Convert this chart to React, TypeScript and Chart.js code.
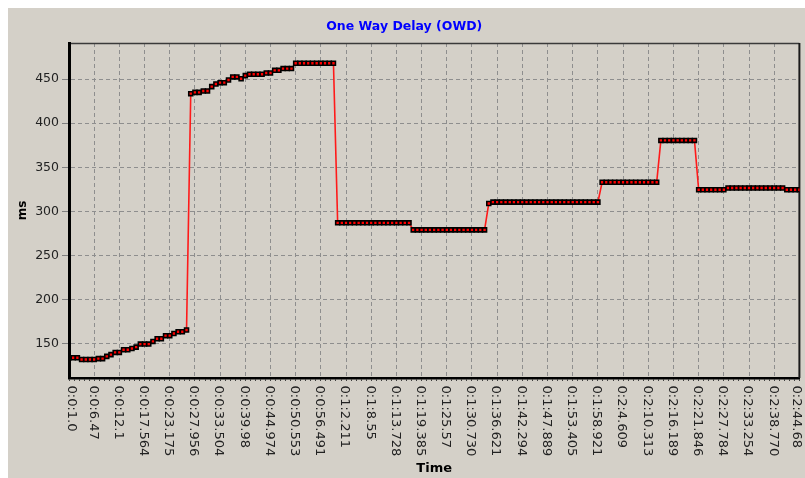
import React, { useEffect, useRef } from 'react';
import { Chart, registerables } from 'chart.js';

Chart.register(...registerables);

const chartTitle = 'One Way Delay (OWD)';
const xAxisTitle = 'Time';
const yAxisTitle = 'ms';

// tick labels shown every `samplesPerLabel` samples
const timeLabels = [
  '0:0:1.0', '0:0:6.47', '0:0:12.1', '0:0:17.564', '0:0:23.175', '0:0:27.956',
  '0:0:33.504', '0:0:39.98', '0:0:44.974', '0:0:50.553', '0:0:56.491', '0:1:2.211',
  '0:1:8.55', '0:1:13.728', '0:1:19.385', '0:1:25.57', '0:1:30.730', '0:1:36.621',
  '0:1:42.294', '0:1:47.889', '0:1:53.405', '0:1:58.921', '0:2:4.609', '0:2:10.313',
  '0:2:16.189', '0:2:21.846', '0:2:27.784', '0:2:33.254', '0:2:38.770', '0:2:44.68',
];
const samplesPerLabel = 6;
const minorTicksPerLabel = 5;

// one-way delay samples (ms)
const owdValues = [
  134, 134, 134, 132, 132, 132, 132, 133, 133, 135.5,
  137.5, 140, 140, 143, 143, 144.5, 146, 149.5, 149.5, 149.5,
  152.5, 155.5, 155.5, 159, 159, 161.5, 163.5, 163.5, 165.5, 433.5,
  435, 435, 436.5, 436.5, 441.5, 444.5, 446, 446, 449, 452.5,
  452.5, 450.5, 454, 455.5, 455.5, 455.5, 455.5, 457, 457, 460,
  460, 462, 462, 462, 468, 468, 468, 468, 468, 468,
  468, 468, 468, 468, 287, 287, 287, 287, 287, 287,
  287, 287, 287, 287, 287, 287, 287, 287, 287, 287,
  287, 287, 279, 279, 279, 279, 279, 279, 279, 279,
  279, 279, 279, 279, 279, 279, 279, 279, 279, 279,
  309, 310.5, 310.5, 310.5, 310.5, 310.5, 310.5, 310.5, 310.5, 310.5,
  310.5, 310.5, 310.5, 310.5, 310.5, 310.5, 310.5, 310.5, 310.5, 310.5,
  310.5, 310.5, 310.5, 310.5, 310.5, 310.5, 310.5, 333, 333, 333,
  333, 333, 333, 333, 333, 333, 333, 333, 333, 333,
  333, 380.5, 380.5, 380.5, 380.5, 380.5, 380.5, 380.5, 380.5, 380.5,
  324.5, 324.5, 324.5, 324.5, 324.5, 324.5, 324.5, 326.5, 326.5, 326.5,
  326.5, 326.5, 326.5, 326.5, 326.5, 326.5, 326.5, 326.5, 326.5, 326.5,
  326.5, 324.5, 324.5, 324.5, 324.5,
];

const yTickValues = [150, 200, 250, 300, 350, 400, 450];
const yMin = 111;
const yMax = 491;

const FONT = 'DejaVu Sans';
const gridColor = '#8e8e8e';

const framePlugin = {
  id: 'frame',
  beforeDatasetsDraw(chart: any) {
    const { ctx, chartArea } = chart;
    ctx.save();
    ctx.strokeStyle = '#3a3a3a';
    ctx.lineWidth = 1.5;
    ctx.beginPath();
    ctx.moveTo(chartArea.left, chartArea.top + 0.5);
    ctx.lineTo(chartArea.right, chartArea.top + 0.5);
    ctx.stroke();
    ctx.strokeStyle = '#1a1a1a';
    ctx.lineWidth = 2;
    ctx.beginPath();
    ctx.moveTo(chartArea.right, chartArea.top);
    ctx.lineTo(chartArea.right, chartArea.bottom);
    ctx.stroke();
    ctx.restore();
  },
};

const xLabelPlugin = {
  id: 'xLabels',
  afterDraw(chart: any) {
    const { ctx, chartArea } = chart;
    const xScale = chart.scales.x;
    ctx.save();
    ctx.font = `13px "${FONT}"`;
    ctx.fillStyle = '#222222';
    ctx.textAlign = 'left';
    ctx.textBaseline = 'middle';
    timeLabels.forEach((lbl, j) => {
      let px = xScale.getPixelForValue(j * samplesPerLabel) - 1.3;
      px = Math.min(Math.max(px, chartArea.left + 1.9), chartArea.right - 3.3);
      ctx.save();
      ctx.translate(px, chartArea.bottom + 7.5);
      ctx.rotate(Math.PI / 2);
      ctx.fillText(lbl, 0, 0);
      ctx.restore();
    });
    ctx.restore();
  },
};

export default function App() {
  const canvasRef = useRef<HTMLCanvasElement | null>(null);

  useEffect(() => {
    document.body.style.marginRight = '0px';
    const canvas = canvasRef.current;
    if (!canvas) return;
    const points = owdValues.map((v, i) => ({ x: i, y: v }));
    const lastIndex = (timeLabels.length - 1) * samplesPerLabel;

    const chart = new Chart(canvas, {
      type: 'line',
      data: {
        datasets: [
          {
            data: points,
            borderColor: '#ff1a1a',
            borderWidth: 1.6,
            pointStyle: 'rect',
            pointRadius: 2.8,
            pointBackgroundColor: '#ff0000',
            pointBorderColor: '#000000',
            pointBorderWidth: 1.6,
            tension: 0,
            fill: false,
          },
        ],
      },
      options: {
        animation: false,
        responsive: false,
        devicePixelRatio: 1,
        layout: { padding: { left: 0, right: 4.5, top: 0, bottom: 0 } },
        plugins: {
          legend: { display: false },
          tooltip: { enabled: false },
          title: {
            display: true,
            text: chartTitle,
            color: '#0000ff',
            font: { family: FONT, size: 12.5, weight: 'bold' },
            padding: { top: 11.5, bottom: 8.5 },
          },
        },
        scales: {
          x: {
            type: 'linear',
            min: 0,
            max: lastIndex,
            afterBuildTicks: (scale: any) => {
              const ticks: any[] = [];
              const n = (timeLabels.length - 1) * minorTicksPerLabel;
              for (let k = 0; k <= n; k++) {
                ticks.push({ value: (k * samplesPerLabel) / minorTicksPerLabel });
              }
              scale.ticks = ticks;
            },
            afterFit: (scale: any) => {
              scale.height = 100;
            },
            ticks: { display: false },
            grid: {
              color: (c: any) => (c.index % minorTicksPerLabel === 0 ? gridColor : 'rgba(0,0,0,0)'),
              tickColor: '#404040',
              tickLength: 3,
              lineWidth: 1,
            },
            border: { display: true, color: '#000000', width: 2.5, dash: [4, 3] },
            title: {
              display: true,
              text: xAxisTitle,
              color: '#000000',
              font: { family: FONT, size: 13, weight: 'bold' },
              padding: { top: 0, bottom: 2 },
            },
          },
          y: {
            min: yMin,
            max: yMax,
            afterBuildTicks: (scale: any) => {
              scale.ticks = yTickValues.map((v) => ({ value: v }));
            },
            afterFit: (scale: any) => {
              scale.width = 61;
            },
            ticks: {
              color: '#222222',
              font: { family: FONT, size: 12.5 },
              padding: 3,
            },
            grid: { color: gridColor, tickColor: '#808080', tickLength: 7, lineWidth: 1 },
            border: { display: true, color: '#000000', width: 3, dash: [4, 3], z: 1 },
            title: {
              display: true,
              text: yAxisTitle,
              color: '#000000',
              font: { family: FONT, size: 12, weight: 'bold' },
              padding: { top: 8, bottom: 0 },
            },
          },
        },
      },
      plugins: [framePlugin, xLabelPlugin],
    } as any);

    return () => {
      chart.destroy();
    };
  }, []);

  return (
    <canvas
      ref={canvasRef}
      width={797}
      height={470}
      style={{ display: 'block', width: '797px', height: '470px', background: '#d4d0c8' }}
    />
  );
}
